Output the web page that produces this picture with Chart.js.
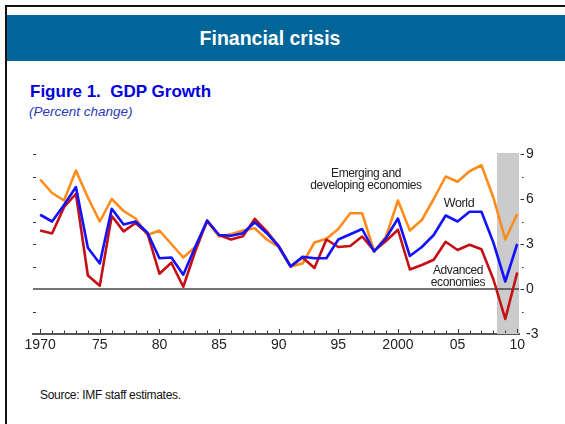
<!DOCTYPE html>
<html>
<head>
<meta charset="utf-8">
<script src="https://cdn.jsdelivr.net/npm/chart.js@4.4.1/dist/chart.umd.min.js"></script>
<style>
  html, body { margin:0; padding:0; background:#fff; }
  body { width:565px; height:424px; position:relative; overflow:hidden; font-family:"Liberation Sans", Arial, sans-serif; }
  #frameTop { position:absolute; left:5px; top:5px; width:560px; height:2px; background:#111; }
  #frameLeft { position:absolute; left:5px; top:5px; width:2px; height:419px; background:#111; }
  #banner { position:absolute; left:5px; top:15px; width:560px; height:46px; background:#006699; }
  #bannerText { position:absolute; left:5px; top:15px; width:530px; height:46px; line-height:46px; text-align:center; color:#fff; font-weight:bold; font-size:19.5px; }
  #figTitle { position:absolute; left:30px; top:82px; color:#0000dd; font-weight:bold; font-size:17px; white-space:pre; }
  #figSub { position:absolute; left:29px; top:104px; color:#2a3ab8; font-style:italic; font-size:13.5px; }
  #source { position:absolute; left:40px; top:388px; color:#111; font-size:12px; letter-spacing:-0.3px; }
  .lbl { position:absolute; color:#222; font-size:12px; letter-spacing:-0.4px; text-align:center; line-height:12px; white-space:nowrap; }
  canvas { position:absolute; left:0; top:0; }
</style>
</head>
<body>
<div id="banner"></div>
<div id="bannerText">Financial crisis</div>
<div id="frameTop"></div>
<div id="frameLeft"></div>
<div id="figTitle">Figure 1.  GDP Growth</div>
<div id="figSub">(Percent change)</div>
<div id="source">Source: IMF staff estimates.</div>
<canvas id="c" width="565" height="424"></canvas>
<div class="lbl" style="left:300px; top:167px; width:132px;">Emerging and<br>developing economies</div>
<div class="lbl" style="left:438px; top:197px; width:42px; font-size:12.5px;">World</div>
<div class="lbl" style="left:423px; top:264px; width:70px;">Advanced<br>economies</div>
<script>
const years = [1970,1971,1972,1973,1974,1975,1976,1977,1978,1979,
               1980,1981,1982,1983,1984,1985,1986,1987,1988,1989,
               1990,1991,1992,1993,1994,1995,1996,1997,1998,1999,
               2000,2001,2002,2003,2004,2005,2006,2007,2008,2009,2010];

const emerging = [7.3, 6.4, 5.9, 7.9, 6.1, 4.5, 6.0, 5.2, 4.7, 3.6,
                  3.9, 3.0, 2.1, 2.8, 4.5, 3.5, 3.65, 3.9, 4.05, 3.3,
                  2.8, 1.5, 1.7, 3.1, 3.35, 4.0, 5.05, 5.05, 2.5, 3.5,
                  5.9, 3.9, 4.6, 6.0, 7.5, 7.15, 7.85, 8.25, 6.1, 3.3, 5.0];

const world = [4.95, 4.5, 5.6, 6.8, 2.75, 1.7, 5.35, 4.3, 4.5, 3.75,
               2.05, 2.1, 0.95, 2.8, 4.55, 3.6, 3.55, 3.72, 4.45, 3.72,
               2.85, 1.5, 2.15, 2.05, 2.05, 3.3, 3.65, 4.0, 2.5, 3.4,
               4.7, 2.2, 2.8, 3.6, 4.9, 4.5, 5.15, 5.15, 3.1, 0.5, 3.0];

const advanced = [3.9, 3.7, 5.45, 6.35, 0.9, 0.22, 4.87, 3.84, 4.4, 3.7,
                  1.02, 1.75, 0.15, 2.5, 4.57, 3.6, 3.3, 3.52, 4.68, 3.84,
                  2.85, 1.5, 2.1, 1.4, 3.3, 2.8, 2.87, 3.5, 2.55, 3.2,
                  3.95, 1.3, 1.6, 1.95, 3.15, 2.6, 2.95, 2.65, 0.65, -2.0, 1.1];

const xTickYears = [1970,1975,1980,1985,1990,1995,2000,2005,2010];
const xTickLabels = ['1970','75','80','85','90','95','2000','05','10'];
const yTickValues = [-3,0,3,6,9];
const yTickLabels = ['-3','0','3','6','9'];
const yMinorValues = [-1.5,1.5,4.5,7.5];
const crisisShade = [2008.3, 2010.15];

const seriesStyle = (label, values, color) => ({
  label,
  data: years.map((y,i) => ({x:y, y:values[i]})),
  borderColor: color,
  borderWidth: 2.6,
  pointRadius: 0,
  tension: 0,
  fill: false,
  borderJoinStyle: 'round'
});

const decor = {
  id:'decor',
  beforeDatasetsDraw(chart) {
    const {ctx, chartArea:a, scales:{x,y}} = chart;
    ctx.save();
    const x0 = x.getPixelForValue(crisisShade[0]);
    const x1 = x.getPixelForValue(crisisShade[1]);
    ctx.fillStyle = '#cbcbcb';
    ctx.fillRect(x0, a.top - 1, x1 - x0, a.bottom - a.top + 1);
    const y0 = y.getPixelForValue(0);
    ctx.strokeStyle = '#444';
    ctx.lineWidth = 1.5;
    ctx.beginPath(); ctx.moveTo(a.left, y0); ctx.lineTo(a.right, y0); ctx.stroke();
    ctx.restore();
  },
  afterDraw(chart) {
    const {ctx, chartArea:a, scales:{x,y}} = chart;
    ctx.save();
    ctx.strokeStyle = '#333';
    ctx.lineWidth = 1;
    for (let yr = 1970; yr <= 2010; yr++) {
      const px = Math.round(x.getPixelForValue(yr)) + 0.5;
      const h = (yr % 5 === 0) ? 4 : 2.5;
      ctx.beginPath(); ctx.moveTo(px, a.bottom - 1); ctx.lineTo(px, a.bottom - 1 - h); ctx.stroke();
    }
    const leftVals = [9,7.5,6,4.5,3,1.5,-1.5];
    leftVals.forEach(v => {
      const py = Math.round(y.getPixelForValue(v)) + 0.5;
      ctx.beginPath(); ctx.moveTo(a.left, py); ctx.lineTo(a.left + 3, py); ctx.stroke();
    });
    yTickValues.forEach(v => {
      if (v === -3) return;
      const py = Math.round(y.getPixelForValue(v)) + 0.5;
      ctx.beginPath(); ctx.moveTo(a.right + 1.5, py); ctx.lineTo(a.right + 5, py); ctx.stroke();
    });
    yMinorValues.forEach(v => {
      const py = Math.round(y.getPixelForValue(v)) + 0.5;
      ctx.beginPath(); ctx.moveTo(a.right + 3, py); ctx.lineTo(a.right + 4.5, py); ctx.stroke();
    });
    ctx.restore();
  }
};

new Chart(document.getElementById('c'), {
  type: 'line',
  data: {
    datasets: [
      seriesStyle('World', world, '#1212ff'),
      seriesStyle('Advanced economies', advanced, '#c40f14'),
      seriesStyle('Emerging and developing economies', emerging, '#ff8c1a')
    ]
  },
  options: {
    responsive: false,
    animation: false,
    devicePixelRatio: 1,
    layout: { padding: { left: 33, top: 154, right: 0, bottom: 0 } },
    plugins: { legend: { display: false }, tooltip: { enabled: false } },
    scales: {
      x: {
        type: 'linear',
        min: 1969.4,
        max: 2010.15,
        afterFit: s => { s.height = 90; },
        afterBuildTicks: s => { s.ticks = xTickYears.map(v => ({value: v})); },
        grid: { display: false, drawTicks: false },
        border: { display: true, color: '#555', width: 2 },
        ticks: {
          autoSkip: false, maxRotation: 0, padding: 3, color: '#222',
          font: { family: 'Liberation Sans', size: 14 },
          callback: (v) => { const i = xTickYears.indexOf(v); return i >= 0 ? xTickLabels[i] : ''; }
        }
      },
      y: {
        position: 'right',
        min: -3,
        max: 9,
        afterFit: s => { s.width = 46; },
        afterBuildTicks: s => { s.ticks = yTickValues.map(v => ({value: v})); },
        grid: { display: false, drawTicks: false },
        border: { display: false },
        ticks: {
          padding: 7, color: '#222',
          font: { family: 'Liberation Sans', size: 14 },
          callback: (v) => { const i = yTickValues.indexOf(v); return i >= 0 ? yTickLabels[i] : ''; }
        }
      }
    }
  },
  plugins: [decor]
});
</script>
</body>
</html>
